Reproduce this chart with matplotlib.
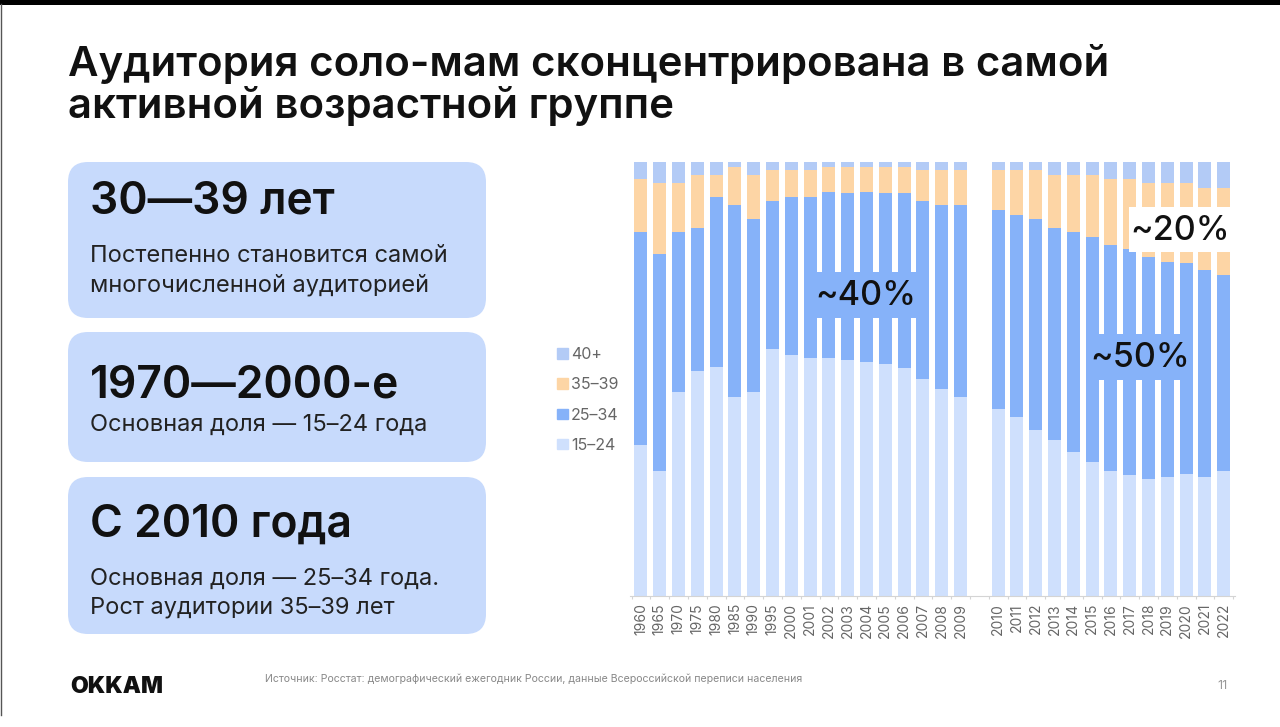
import numpy as np
import matplotlib
matplotlib.use("Agg")
import matplotlib.pyplot as plt
from matplotlib.patches import FancyBboxPatch, Rectangle, Patch

plt.rcParams['font.family'] = ['Inter', 'DejaVu Sans']

years = ['1960', '1965', '1970', '1975', '1980', '1985', '1990', '1995', '2000',
         '2001', '2002', '2003', '2004', '2005', '2006', '2007', '2008', '2009',
         '2010', '2011', '2012', '2013', '2014', '2015', '2016', '2017', '2018',
         '2019', '2020', '2021', '2022']

# shares, %
a15_24 = [34.9, 28.8, 46.9, 51.8, 52.8, 45.9, 46.9, 57.0, 55.5, 54.9, 54.9, 54.4,
          53.9, 53.5, 52.5, 49.9, 47.8, 45.9, 43.2, 41.3, 38.2, 35.9, 33.2, 30.9,
          28.8, 27.8, 26.9, 27.5, 28.0, 27.5, 28.8]
a25_34 = [49.0, 50.1, 37.0, 33.1, 39.1, 44.1, 40.0, 34.0, 36.4, 37.0, 38.2, 38.4,
          39.2, 39.3, 40.3, 41.1, 42.2, 44.1, 45.7, 46.6, 48.6, 49.0, 50.7, 51.9,
          52.1, 52.1, 51.1, 49.5, 48.7, 47.6, 45.1]
a35_39 = [12.1, 16.2, 11.2, 12.1, 5.1, 8.9, 10.1, 7.1, 6.2, 6.2, 5.8, 6.1,
          5.8, 6.1, 6.1, 7.1, 8.1, 8.1, 9.2, 10.2, 11.3, 12.1, 13.1, 14.2,
          15.1, 16.1, 17.1, 18.1, 18.4, 19.0, 20.2]
a40 = [4.0, 4.9, 4.9, 3.0, 3.0, 1.1, 3.0, 1.9, 1.9, 1.9, 1.1, 1.1,
       1.1, 1.1, 1.1, 1.9, 1.9, 1.9, 1.9, 1.9, 1.9, 3.0, 3.0, 3.0,
       4.0, 4.0, 4.9, 4.9, 4.9, 5.9, 5.9]

groups = ['15–24', '25–34', '35–39', '40+']
colors = ['#cfe0fd', '#86b2f9', '#fdd5a5', '#b3cbf6']

W, H = 1280, 727
fig = plt.figure(figsize=(W / 100, H / 100), dpi=100)
fig.patch.set_facecolor('white')

# chart axes in pixel layout
ax_l, ax_r, ax_t, ax_b = 629.7, 1235, 162, 596
ax = fig.add_axes([ax_l / W, 1 - ax_b / H, (ax_r - ax_l) / W, (ax_b - ax_t) / H])

pos = np.array(list(range(18)) + list(range(19, 32)))
bottom = np.zeros(len(years))
for vals, c in zip([a15_24, a25_34, a35_39, a40], colors):
    ax.bar(pos, vals, bottom=bottom, width=0.69, color=c, linewidth=0)
    bottom += np.array(vals)

ax.set_xlim(-0.6, 31.6)
ax.set_ylim(0, 100)
ax.set_yticks([])
for s in ['left', 'right', 'top']:
    ax.spines[s].set_visible(False)
ax.spines['bottom'].set_color('#d4d4d4')
ax.spines['bottom'].set_linewidth(0.8)
ax.set_xticks(pos, years, rotation=90)
ax.tick_params(axis='x', which='major', length=0, pad=5, labelsize=10, labelcolor='#666666')
ax.set_xticks(np.arange(-0.5, 32, 1), minor=True)
ax.tick_params(axis='x', which='minor', length=2.5, color='#d4d4d4', width=0.8)

handles = [Patch(color=c) for c in colors]
fig.legend(handles[::-1], groups[::-1], loc='center left',
           bbox_to_anchor=(543 / W, 1 - 400 / H), frameon=False, fontsize=11.5,
           handlelength=0.65, handleheight=0.65, handletextpad=0.2,
           labelspacing=0.95, labelcolor='#666666')

# overlay in pixel coordinates
ov = fig.add_axes([0, 0, 1, 1], zorder=5)
ov.set_xlim(0, W)
ov.set_ylim(H, 0)
ov.axis('off')
ov.patch.set_alpha(0)

ov.add_patch(Rectangle((0, 0), W, 4.5, color='black', linewidth=0))
ov.plot([0.6, 0.6], [4, 715], color='#555555', linewidth=1)

ov.text(68, 76, 'Аудитория соло-мам сконцентрирована в самой', fontsize=30.2,
        fontweight='semibold', color='#111111', va='baseline')
ov.text(68, 118, 'активной возрастной группе', fontsize=30.2,
        fontweight='semibold', color='#111111', va='baseline')

panel_color = '#c7dafc'
panels = [(162, 318), (332, 462), (477, 634)]
for top, bot in panels:
    ov.add_patch(FancyBboxPatch((68 + 20, top + 20), 418 - 40, bot - top - 40,
                                boxstyle='round,pad=20', facecolor=panel_color,
                                edgecolor='none'))

ov.text(90, 214, '30—39 лет', fontsize=32, fontweight='semibold', color='#111111', va='baseline')
ov.text(90, 262, 'Постепенно становится самой', fontsize=17, color='#222222', va='baseline')
ov.text(90, 292, 'многочисленной аудиторией', fontsize=17, color='#222222', va='baseline')

ov.text(90, 397, '1970—2000-е', fontsize=32, fontweight='semibold', color='#111111', va='baseline')
ov.text(90, 431, 'Основная доля — 15–24 года', fontsize=17, color='#222222', va='baseline')

ov.text(90, 537, 'С 2010 года', fontsize=32, fontweight='semibold', color='#111111', va='baseline')
ov.text(90, 585, 'Основная доля — 25–34 года.', fontsize=17, color='#222222', va='baseline')
ov.text(90, 614, 'Рост аудитории 35–39 лет', fontsize=17, color='#222222', va='baseline')

# callouts over the bars
callouts = [('~40%', 815, 272, 917, 318, colors[1]),
            ('~50%', 1088, 334, 1193, 380, colors[1]),
            ('~20%', 1129, 207, 1231, 252, 'white')]
for txt, x0, y0, x1, y1, fc in callouts:
    ov.add_patch(Rectangle((x0, y0), x1 - x0, y1 - y0, facecolor=fc, edgecolor='none'))
    ov.text((x0 + x1) / 2, (y0 + y1) / 2 + 1, txt, fontsize=24.5, fontweight='medium',
            color='#111111', ha='center', va='center')

# footer
ov.text(70, 693, 'OKKAM', fontsize=16.5, fontweight='black', color='#111111', va='baseline')
ov.text(265, 682, 'Источник: Росстат: демографический ежегодник России, данные Всероссийской переписи населения',
        fontsize=7.6, color='#888888', va='baseline')
ov.text(1228, 689, '11', fontsize=9, color='#999999', ha='right', va='baseline')

fig.savefig('out.png', dpi=100, facecolor='white')
